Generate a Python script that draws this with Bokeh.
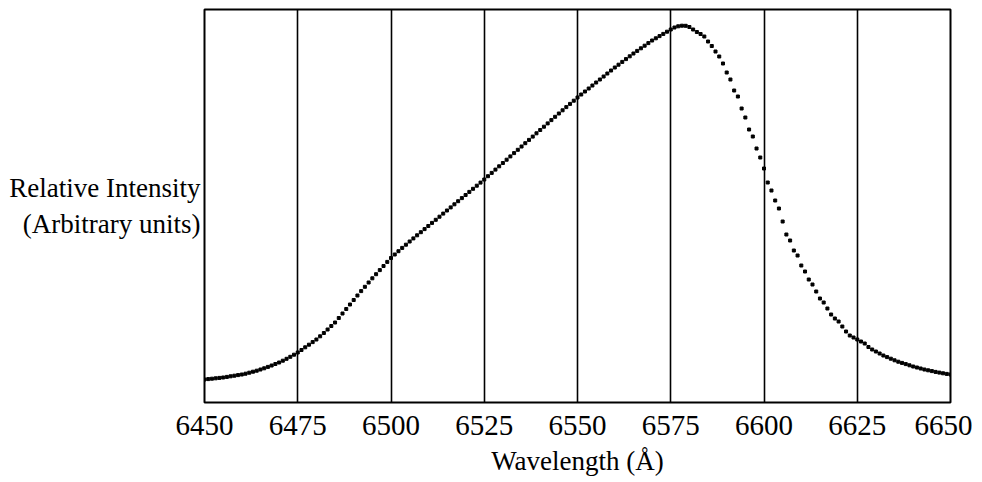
from bokeh.plotting import figure
from bokeh.models import Range1d, FixedTicker
from bokeh.embed import file_html
from bokeh.resources import INLINE

# Wavelength samples (Angstrom), one per Angstrom
wavelengths = list(range(6450, 6651))

# Relative intensity (arbitrary units)
intensity = [
    23.0, 23.4, 23.8, 24.2, 24.6, 25.0, 25.6, 26.2, 26.8, 27.4,
    28.0, 28.8, 29.8, 30.8, 31.8, 33.0, 34.2, 35.6, 37.0, 38.5,
    40.0, 41.8, 43.7, 45.7, 47.8,
    50.0, 52.5, 55.2, 57.8, 60.4, 63.0, 66.2, 69.5, 73.0, 76.5,
    80.0, 84.5, 89.0, 93.5, 98.0, 102.5, 107.0, 111.4, 115.7, 120.0,
    124.2, 128.3, 132.4, 136.5, 140.6,
    144.5, 148.0, 151.3, 154.6, 157.8, 161.0, 164.1, 167.2, 170.3, 173.4,
    176.5, 179.6, 182.7, 185.8, 188.9, 192.0, 195.1, 198.2, 201.3, 204.4,
    207.5, 210.6, 213.7, 216.8, 219.9,
    223.0, 226.3, 229.6, 232.9, 236.2, 239.5, 242.8, 246.1, 249.4, 252.7,
    256.0, 259.3, 262.6, 265.9, 269.2, 272.5, 275.8, 279.1, 282.4, 285.7,
    289.0, 292.2, 295.4, 298.6, 301.8,
    305.0, 308.0, 311.0, 314.0, 317.0, 320.0, 323.0, 326.0, 329.0, 332.0,
    335.0, 337.8, 340.6, 343.4, 346.2, 349.0, 351.6, 354.2, 356.8, 359.4,
    362.0, 364.2, 366.4, 368.6, 370.8,
    373.0, 375.0, 376.2, 376.8, 376.7, 375.5, 373.0, 370.5, 368.5, 366.0,
    361.0, 356.5, 351.0, 346.0, 339.0, 330.0, 323.0, 312.0, 306.0, 294.0,
    285.0, 273.0, 266.0, 254.0, 245.0,
    234.0, 220.0, 212.0, 202.0, 194.0, 181.0, 168.0, 162.0, 152.0, 147.0,
    137.0, 131.0, 123.0, 118.0, 111.0, 104.0, 100.0, 94.0, 88.0, 84.0,
    81.0, 76.0, 71.0, 67.0, 65.0,
    63.0, 61.0, 59.0, 55.5, 53.0, 51.0, 49.0, 47.0, 45.4, 43.8,
    42.2, 40.8, 39.6, 38.4, 37.2, 36.0, 35.0, 34.0, 33.0, 32.2,
    31.4, 30.6, 29.9, 29.2, 28.6, 28.0,
]

tick_values = [6450, 6475, 6500, 6525, 6550, 6575, 6600, 6625, 6650]
grid_values = [6475, 6500, 6525, 6550, 6575, 6600, 6625]
x_label = "Wavelength (Å)"
y_label = "Relative Intensity\n(Arbitrary units)"

SERIF = "Liberation Serif"

p = figure(
    width=972, height=480,
    output_backend="svg", toolbar_location=None,
    x_range=Range1d(6450, 6650), y_range=Range1d(0, 393),
    min_border_left=204, min_border_right=22,
    min_border_top=9, min_border_bottom=78,
)
p.background_fill_color = "white"
p.border_fill_color = "white"
p.outline_line_color = "black"
p.outline_line_width = 2

p.scatter(wavelengths, intensity, marker="square", size=3, color="black")

# vertical lines
p.xgrid.ticker = FixedTicker(ticks=grid_values)
p.xgrid.grid_line_color = "black"
p.xgrid.grid_line_width = 1.6
p.ygrid.grid_line_color = None

xa = p.xaxis[0]
xa.ticker = FixedTicker(ticks=tick_values)
xa.axis_line_color = None
xa.major_tick_line_color = None
xa.minor_tick_line_color = None
xa.major_label_standoff = 7
xa.major_label_text_font = SERIF
xa.major_label_text_font_size = "29px"
xa.major_label_text_color = "black"
xa.axis_label = x_label
xa.axis_label_standoff = 8
xa.axis_label_text_font = SERIF
xa.axis_label_text_font_size = "27px"
xa.axis_label_text_font_style = "normal"
xa.axis_label_text_color = "black"

ya = p.yaxis[0]
ya.ticker = FixedTicker(ticks=[])
ya.axis_line_color = None
ya.major_tick_line_color = None
ya.minor_tick_line_color = None
ya.major_label_text_color = None
ya.axis_label = y_label
ya.axis_label_orientation = "horizontal"
ya.axis_label_standoff = 4
ya.axis_label_text_font = SERIF
ya.axis_label_text_font_size = "27px"
ya.axis_label_text_font_style = "normal"
ya.axis_label_text_color = "black"
ya.axis_label_text_align = "right"

open("out.html", "w").write(file_html(p, INLINE))
